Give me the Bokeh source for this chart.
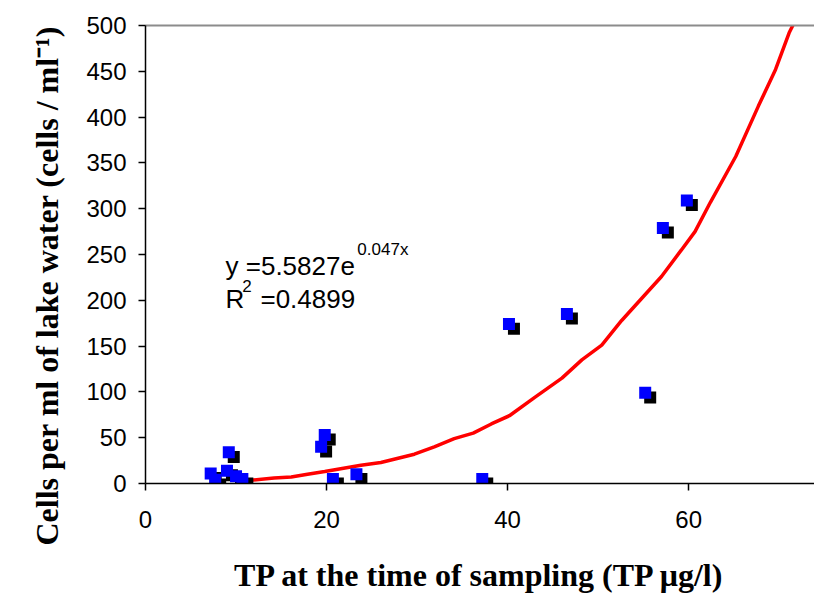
import math
from bokeh.plotting import figure
from bokeh.models import Label, LinearAxis, FixedTicker, ColumnDataSource, Range1d, Title
from bokeh.transform import dodge
from bokeh.embed import file_html
from bokeh.resources import INLINE

# Observed samples: TP (µg/l) vs cells per ml of lake water
tp = [7.2, 7.7, 9.0, 9.2, 10.0, 10.7, 19.4, 19.8, 20.7, 23.3, 37.2, 40.15, 46.55, 55.2, 57.15, 59.8]
cells = [11, 4, 14, 34, 8, 5, 40, 53, 5, 10, 5, 174, 185, 99, 279, 309]

# Exponential trend line as drawn
trend_tp = [11.1, 14.2, 16.1, 17.9, 19.8, 23.8, 26.0, 29.7, 31.9, 34.1, 36.2, 38.2, 40.2, 43.0,
            46.0, 48.2, 50.4, 52.6, 54.8, 57.0, 59.2, 60.7, 62.4, 65.2, 67.7, 69.6, 71.1, 72.1]
trend_cells = [3, 6, 7, 10, 13, 20, 23, 32, 40, 49, 55, 65, 74, 94,
               115, 135, 151, 178, 202, 226, 255, 275, 307, 357, 412, 452, 492, 512]

x_ticks = [0, 20, 40, 60]
y_ticks = [0, 50, 100, 150, 200, 250, 300, 350, 400, 450, 500]

equation_text = "y =5.5827e"
equation_exp = "0.047x"
r2_main = "R"
r2_sup = "2"
r2_value = "=0.4899"
x_title = "TP at the time of sampling (TP \u03bcg/l)"
y_title = "Cells per ml of lake water (cells / ml\u207b\u00b9)"

src = ColumnDataSource(dict(tp=tp, cells=cells))

p = figure(width=814, height=599,
           x_range=Range1d(0, 73.9), y_range=Range1d(0, 500),
           output_backend="svg", toolbar_location=None,
           min_border_left=145, min_border_right=0,
           min_border_top=25, min_border_bottom=116)

p.background_fill_color = "white"
p.border_fill_color = "white"
p.outline_line_color = None
p.grid.visible = False

for ax in (p.xaxis[0], p.yaxis[0]):
    ax.axis_line_color = "black"
    ax.axis_line_width = 1.5
    ax.major_tick_line_color = "black"
    ax.major_tick_line_width = 1.5
    ax.major_tick_out = 7
    ax.major_tick_in = 0
    ax.minor_tick_line_color = None
    ax.major_label_text_font = "Liberation Sans"
    ax.major_label_text_font_size = "24px"
    ax.major_label_text_color = "black"

p.xaxis[0].ticker = FixedTicker(ticks=x_ticks)
p.yaxis[0].ticker = FixedTicker(ticks=y_ticks)
p.xaxis[0].major_label_standoff = 20
p.yaxis[0].major_label_standoff = 12

serif = "Liberation Serif"
p.xaxis[0].axis_label = x_title
p.xaxis[0].axis_label_text_font = serif
p.xaxis[0].axis_label_text_font_style = "bold"
p.xaxis[0].axis_label_text_font_size = "32px"
p.xaxis[0].axis_label_text_color = "black"
p.xaxis[0].axis_label_standoff = 26

top = LinearAxis(ticker=FixedTicker(ticks=[]), axis_line_color="#8c8c8c", axis_line_width=2,
                 major_tick_line_color=None, minor_tick_line_color=None)
p.add_layout(top, "above")

ytitle = Title(text=y_title, align="left", offset=-62, standoff=38,
               text_font=serif, text_font_style="bold", text_font_size="32px",
               text_color="black")
p.add_layout(ytitle, "left")

p.line(trend_tp, trend_cells, line_color="#ff0000", line_width=3.5)

p.scatter(x=dodge("tp", 0.55), y=dodge("cells", -5.0), source=src, marker="square",
          size=12, fill_color="black", line_color=None)
p.scatter(x="tp", y="cells", source=src, marker="square",
          size=12, fill_color="#0000ff", line_color=None)

sans = "Liberation Sans"
p.add_layout(Label(x=8.84, y=237.2, text=equation_text, text_font=sans,
                   text_font_size="26px", text_baseline="alphabetic", text_color="black"))
p.add_layout(Label(x=23.4, y=255.7, text=equation_exp, text_font=sans,
                   text_font_size="17px", text_baseline="alphabetic", text_color="black"))
p.add_layout(Label(x=8.84, y=201.1, text=r2_main, text_font=sans,
                   text_font_size="26px", text_baseline="alphabetic", text_color="black"))
p.add_layout(Label(x=10.7, y=215.3, text=r2_sup, text_font=sans,
                   text_font_size="17px", text_baseline="alphabetic", text_color="black"))
p.add_layout(Label(x=12.7, y=201.1, text=r2_value, text_font=sans,
                   text_font_size="26px", text_baseline="alphabetic", text_color="black"))

open("out.html", "w").write(file_html(p, INLINE))
